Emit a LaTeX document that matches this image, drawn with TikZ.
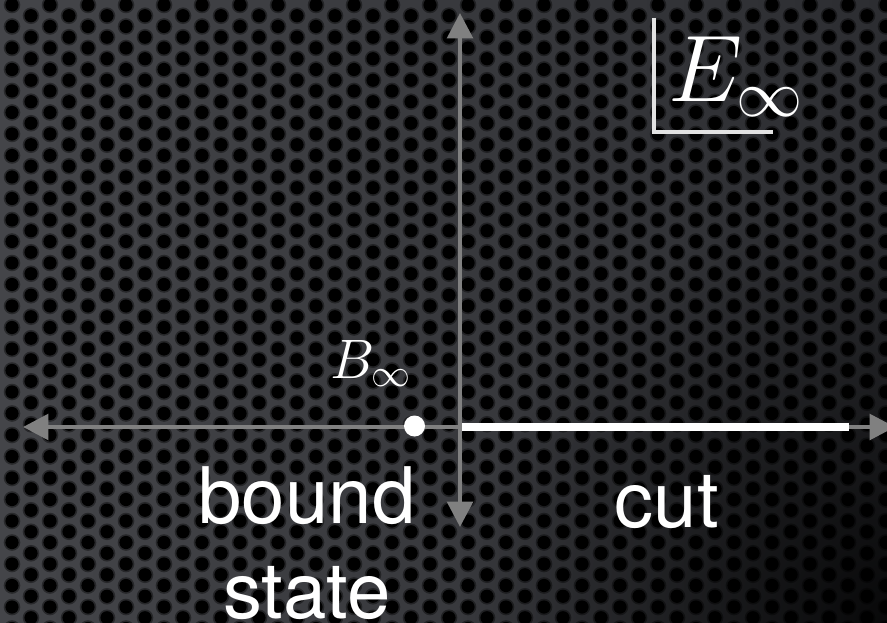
\RequirePackage{fix-cm}
\documentclass[tikz,border=0pt]{standalone}
\usepackage[no-math]{fontspec}
\setmainfont{TeX Gyre Heros}
\usetikzlibrary{arrows.meta, fadings, positioning}
\definecolor{fondo}{RGB}{68,69,73}
\definecolor{fondoosc}{RGB}{44,45,49}
\definecolor{gris}{RGB}{128,128,128}
\definecolor{claro}{RGB}{226,226,226}
\tikzfading[name=mancha, inner color=transparent!0, outer color=transparent!100]
\tikzset{
  eje/.style={draw=gris, line width=3.4pt, {Triangle[length=19pt,width=19pt]}-{Triangle[length=19pt,width=19pt]}},
  hueco/.style={fill=black},
  etiqueta/.style={text=white, inner sep=0pt, font=\fontsize{58.5}{71.25}\selectfont, align=center},
  simbolo/.style={text=white, inner sep=0pt, anchor=base west},
}

\begin{document}
\begin{tikzpicture}[x=0.75pt, y=-0.75pt]
\useasboundingbox (0,0) rectangle (887,623);
% fondo de chapa perforada
\shade[left color=fondo, right color=fondoosc] (0,0) rectangle (887,623);
\fill[black, opacity=0.8, path fading=mancha] (887,623) circle (420);
\foreach \i in {0,...,46}
  \foreach \j in {0,...,29} {
    \pgfmathsetmacro{\hx}{12+19*\i}
    \pgfmathsetmacro{\hy}{5+21.5*\j+10.75*mod(\i,2)}
    \fill[black, opacity=0.4] (\hx,\hy) circle (8.3);
    \fill[hueco] (\hx,\hy) circle (6.6);
  }

% ejes
\coordinate (origen) at (460,427);
\coordinate (izq) at (23,427);
\coordinate (der) at (895,427);
\coordinate (arriba) at (460,13);
\coordinate (abajo) at (460,527);
\draw[eje] (izq) -- (der);
\draw[eje] (abajo) -- (arriba);

% corte
\coordinate (corte0) at (462,427);
\coordinate (corte1) at (849,427);
\draw[white, line width=5.8pt] (corte0) -- (corte1);

% estado ligado
\node[circle, fill=white, inner sep=0pt, minimum size=15.75pt] (polo) at (414.5,426) {};
\node[simbolo, font=\fontsize{41.7}{50}\selectfont] (Binf) at (330,378) {$B_\infty$};

% esquina E
\coordinate (esqA) at (654,18);
\coordinate (esqB) at (654,132);
\coordinate (esqC) at (773,132);
\draw[claro, line width=3pt] (esqA) -- (esqB) -- (esqC);
\node[simbolo, font=\fontsize{71}{85}\selectfont] (Einf) at (668,102) {$E_\infty$};

% textos
\node[etiqueta, anchor=base] (ligado) at (307,618) {bound\\state};
\node[etiqueta, anchor=base] (corte) at (667,527) {cut};
\end{tikzpicture}
\end{document}
